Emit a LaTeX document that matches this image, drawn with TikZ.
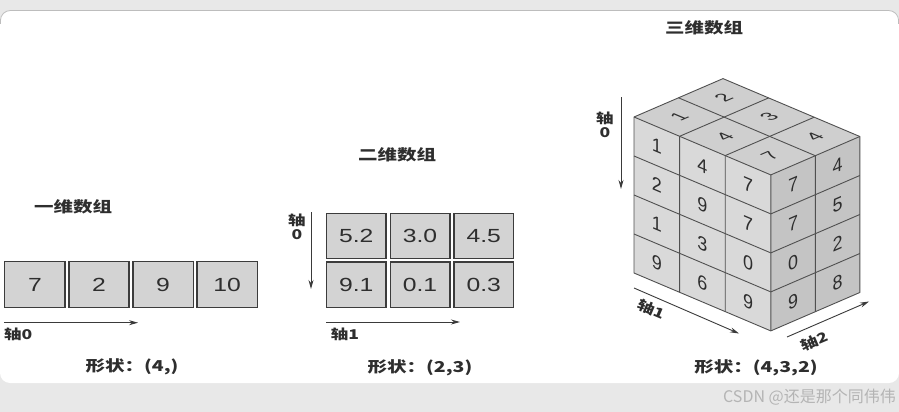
\documentclass[tikz,border=0pt]{standalone}
\usepackage{fontspec}
\usepackage{graphicx}
\setmainfont{Liberation Sans}
\newfontfamily\cjk{Noto Sans CJK SC}
\usetikzlibrary{arrows.meta}
\definecolor{bgband}{HTML}{E8E8E8}
\definecolor{panelline}{HTML}{BDBDBD}
\definecolor{cellfill}{HTML}{D3D3D3}
\definecolor{celledge}{HTML}{3C3C3C}
\definecolor{faceL}{HTML}{D9D9D9}
\definecolor{faceT}{HTML}{CFCFCF}
\definecolor{faceR}{HTML}{C4C4C4}
\definecolor{cubeedge}{HTML}{505050}
\definecolor{ink}{HTML}{2E2E2E}
\definecolor{axcol}{HTML}{3A3A3A}
\definecolor{wmgray}{HTML}{B4B4B4}
\newcommand\stretchx[1]{\scalebox{1.3}[1]{#1}}
\begin{document}
\begin{tikzpicture}[x=1pt,y=1pt,
  cell/.style={draw=celledge, fill=cellfill, line width=1.4pt, inner sep=0pt, text=ink, font=\fontsize{19}{19}\selectfont},
  arrtitle/.style={text=ink, font=\cjk\bfseries\fontsize{15}{15}\selectfont},
  shapelbl/.style={text=ink, font=\cjk\bfseries\fontsize{15}{15}\selectfont},
  axlbl/.style={text=ink, font=\cjk\bfseries\fontsize{13.5}{13.5}\selectfont, inner sep=0pt},
  axarrow/.style={draw=axcol, line width=0.9pt, -{Stealth[length=9pt,width=5pt]}},
  cubedig/.style={text=ink, font=\fontsize{19.5}{19.5}\selectfont, inner sep=0pt, transform shape},
  cubeline/.style={draw=cubeedge, line width=0.9pt, line join=round}]
\useasboundingbox (0,0) rectangle (899,-412);
% background
\fill[bgband] (0,0) rectangle (899,-412);
\fill[white, rounded corners=10pt] (0,-10.5) rectangle (899,-383);
\draw[panelline, line width=0.8pt, rounded corners=10pt] (0.4,-24) -- (0.4,-10.5) -- (898.6,-10.5) -- (898.6,-24);

% ---------- 1D ----------
\node[arrtitle] (t1) at (73,-207) {\stretchx{一维数组}};
\foreach \v [count=\i from 0] in {7,2,9,10}
  \node[cell, minimum width=60.3pt, minimum height=46.2pt] (a\i) at (34.9+\i*64.1,-284.5) {\stretchx{\v}};
\coordinate (a0s) at (4,-322.7);
\coordinate (a0e) at (138,-322.7);
\draw[axarrow] (a0s) -- (a0e);
\node[axlbl, anchor=west] (a0l) at (4,-334.5) {\stretchx{轴0}};
\node[shapelbl] (s1) at (132,-367) {\stretchx{形状：(4,)}};

% ---------- 2D ----------
\node[arrtitle] (t2) at (397,-155) {\stretchx{二维数组}};
\foreach \r/\c/\v in {0/0/5.2,0/1/3.0,0/2/4.5,1/0/9.1,1/1/0.1,1/2/0.3}
  \node[cell, minimum width=59.6pt, minimum height=45.2pt] (b\r\c) at (356.2+\c*63.8,-236-\r*48.7) {\stretchx{\v}};
\coordinate (b0s) at (311,-212);
\coordinate (b0e) at (311,-289);
\draw[axarrow] (b0s) -- (b0e);
\node[axlbl] (b0la) at (297,-220) {\stretchx{轴}};
\node[axlbl] (b0lb) at (297,-235) {\stretchx{0}};
\coordinate (b1s) at (326,-322);
\coordinate (b1e) at (460,-322);
\draw[axarrow] (b1s) -- (b1e);
\node[axlbl] (b1l) at (345,-334) {\stretchx{轴1}};
\node[shapelbl] (s2) at (420,-368) {\stretchx{形状：(2,3)}};

% ---------- 3D ----------
\node[arrtitle] (t3) at (704,-28) {\stretchx{三维数组}};
\coordinate (L) at (634,-117);
\coordinate (Lu3) at (770.8,-174.9);
\coordinate (Lv2) at (723,-78.6);
\coordinate (Lu3v2) at (859.8,-136.5);
\coordinate (Lw4) at (634,-273);
\coordinate (Lu3w4) at (770.8,-330.9);
\coordinate (Lu3v2w4) at (859.8,-292.5);
\fill[faceL] (L) -- (Lu3) -- (Lu3w4) -- (Lw4) -- cycle;
\fill[faceR] (Lu3) -- (Lu3v2) -- (Lu3v2w4) -- (Lu3w4) -- cycle;
\fill[faceT] (L) -- (Lv2) -- (Lu3v2) -- (Lu3) -- cycle;
% grid lines
\foreach \k in {1,2,3}
  \draw[cubeline] (634,-117-\k*39) -- (770.8,-174.9-\k*39) -- (859.8,-136.5-\k*39);
\foreach \i in {1,2}
  \draw[cubeline] (634+\i*45.6,-117-\i*19.3-156) -- (634+\i*45.6,-117-\i*19.3) -- ++(89,38.4);
\draw[cubeline] (678.5,-97.8) -- (815.3,-155.7) -- (815.3,-311.7);
\draw[cubeline] (L) -- (Lv2) -- (Lu3v2) -- (Lu3v2w4) -- (Lu3w4) -- (Lw4) -- cycle;
\draw[cubeline] (L) -- (Lu3) -- (Lu3w4);
\draw[cubeline] (Lu3) -- (Lu3v2);
% left face digits
\foreach \r/\i/\d in {0/0/1,0/1/4,0/2/7,1/0/2,1/1/9,1/2/7,2/0/1,2/1/3,2/2/0,3/0/9,3/1/6,3/2/9}{
  \begin{scope}[shift={(634+\i*45.6+22.8,-117-\i*19.3-9.65-\r*39-19.5)}, cm={0.921,-0.390,0,1,(0,0)}]
    \node[cubedig] (cl\r\i) at (0,0) {\d};
  \end{scope}
}
% right face digits
\foreach \r/\j/\d in {0/0/7,0/1/4,1/0/7,1/1/5,2/0/0,2/1/2,3/0/9,3/1/8}{
  \begin{scope}[shift={(770.8+\j*44.5+22.25,-174.9+\j*19.2+9.6-\r*39-19.5)}, cm={0.918,0.396,0,1,(0,0)}]
    \node[cubedig] (cr\r\j) at (0,0) {\d};
  \end{scope}
}
% top face digits
\foreach \i/\j/\d in {0/0/1,0/1/2,1/0/4,1/1/3,2/0/7,2/1/4}{
  \begin{scope}[shift={(634+\i*45.6+22.8+\j*44.5+22.25,-117-\i*19.3-9.65+\j*19.2+9.6)}, cm={0.918,0.396,-0.921,0.390,(0,0)}]
    \node[cubedig] (ct\i\j) at (0,0) {\d};
  \end{scope}
}
% cube axes
\coordinate (c0s) at (621,-97);
\coordinate (c0e) at (621,-189);
\draw[axarrow] (c0s) -- (c0e);
\node[axlbl] (c0la) at (605,-118) {\stretchx{轴}};
\node[axlbl] (c0lb) at (605,-133) {\stretchx{0}};
\coordinate (c1s) at (634,-288);
\coordinate (c1e) at (739,-333.5);
\draw[axarrow] (c1s) -- (c1e);
\node[axlbl, rotate=-23] (c1l) at (651,-309) {\stretchx{轴1}};
\coordinate (c2s) at (787,-337);
\coordinate (c2e) at (869,-301.5);
\draw[axarrow] (c2s) -- (c2e);
\node[axlbl, rotate=23] (c2l) at (814,-341) {\stretchx{轴2}};
\node[shapelbl] (s3) at (756,-368) {\stretchx{形状：(4,3,2)}};

% watermark
\node[anchor=east, inner sep=0pt, text=wmgray, font=\cjk\fontsize{16}{16}\selectfont] (wm) at (896,-397) {CSDN @还是那个同伟伟};
\end{tikzpicture}
\end{document}
